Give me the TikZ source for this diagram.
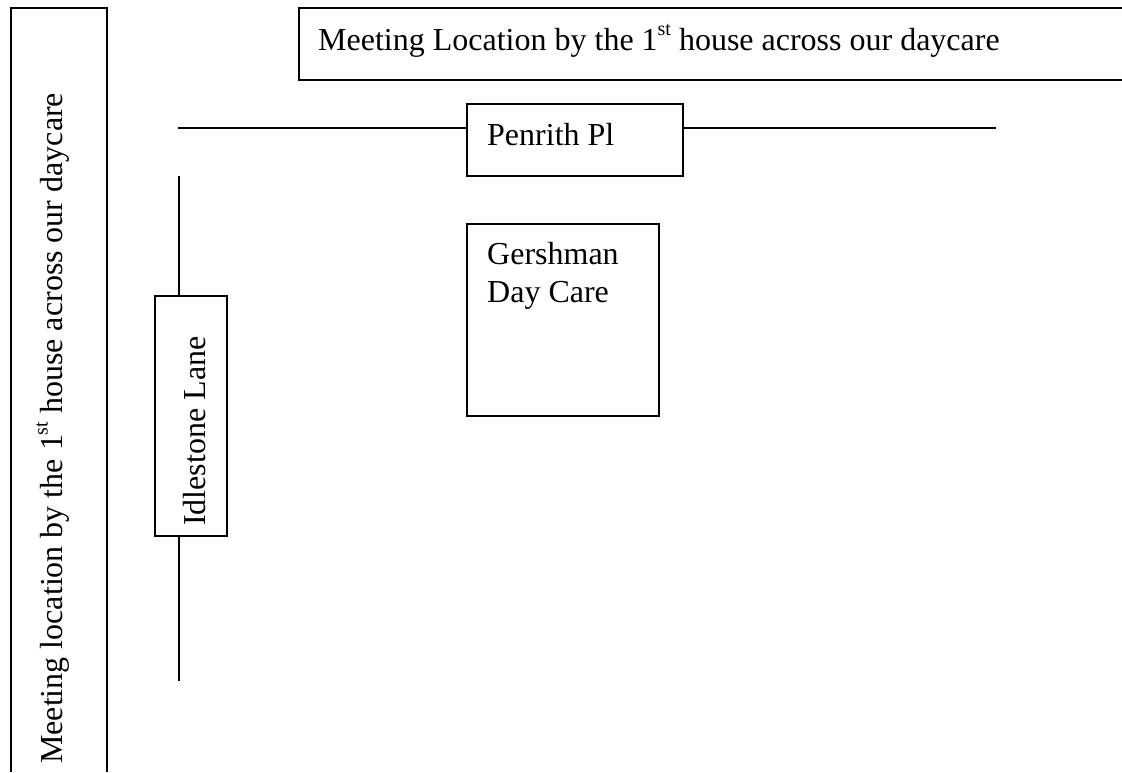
\documentclass[tikz,border=0pt]{standalone}
\usepackage{fontspec}
\setmainfont{Liberation Serif}
\tikzset{lbl/.style={inner sep=0pt,font=\fontsize{32pt}{38pt}\selectfont},
 box/.style={draw,line width=1.4pt,fill=white,inner sep=0,outer sep=0,anchor=north west},
 road/.style={draw,line width=1.4pt}}
\newcommand{\sth}{\raisebox{14.5pt}{\fontsize{20pt}{24pt}\selectfont st}}
\begin{document}
\begin{tikzpicture}[x=1pt,y=-1pt]
\useasboundingbox (0,0) rectangle (1122,772);
\fill[white] (0,0) rectangle (1122,772);
\coordinate (rl) at (178,128);
\coordinate (rr) at (996,128);
\coordinate (vt) at (179,176);
\coordinate (vb) at (179,680.5);
\path[road] (rl) -- (rr);
\path[road] (vt) -- (vb);
\node[box,minimum width=216pt,minimum height=72pt] (pen) at (467,104) {};
\node[box,minimum width=192pt,minimum height=192pt] (ger) at (467,224) {};
\node[box,minimum width=72pt,minimum height=240pt] (idl) at (155,296) {};
\path[road] (1122,8) -- (299,8) -- (299,80) -- (1122,80);
\path[road] (11,772) -- (11,8) -- (107,8) -- (107,772);
\node[lbl,anchor=base west] (t1) at (318,50) {Meeting Location by the 1\sth{} house across our daycare};
\node[lbl,anchor=base west] (t2) at (487,145) {Penrith Pl};
\node[lbl,anchor=base west] (t3) at (487,264) {Gershman};
\node[lbl,anchor=base west] (t4) at (487,302) {Day Care};
\node[lbl,anchor=base west,rotate=90] (t5) at (205.5,526) {Idlestone Lane};
\node[lbl,anchor=base west,rotate=90] (t6) at (62,764) {Meeting location by the 1\sth{} house across our daycare};
\end{tikzpicture}
\end{document}
